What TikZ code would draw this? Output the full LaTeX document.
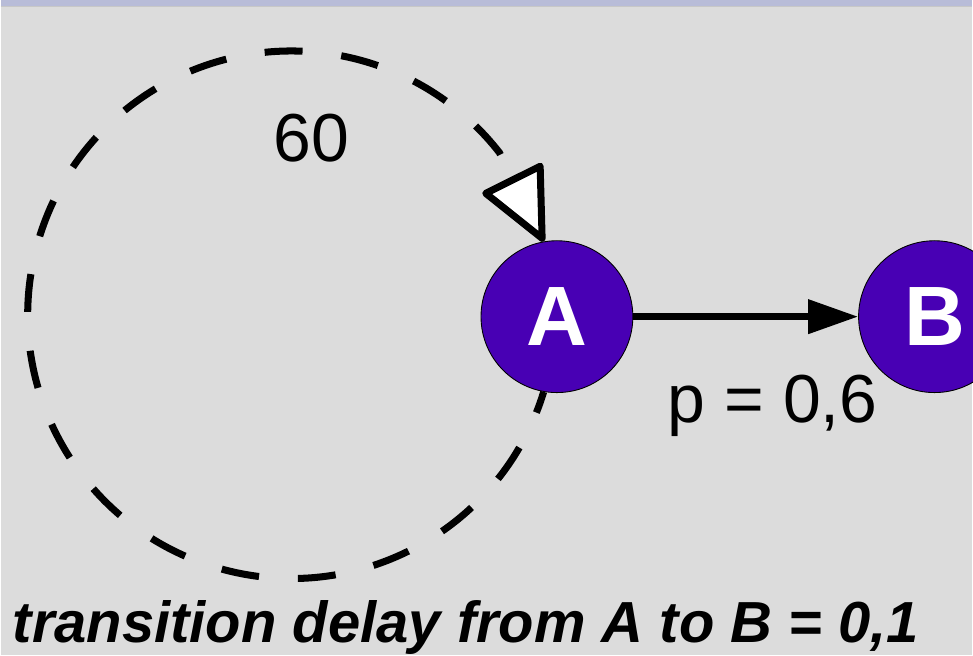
\documentclass[tikz,border=0pt]{standalone}
\usepackage{fontspec}
\setmainfont{Liberation Sans}
\usepackage{tikz}
\usetikzlibrary{arrows.meta}
\definecolor{chainbg}{RGB}{220,220,220}
\definecolor{chainbar}{RGB}{184,188,216}
\definecolor{chainviolet}{RGB}{72,0,180}

\begin{document}
\begin{tikzpicture}[
    stnode/.style={circle,draw=black,line width=0.5pt,fill=chainviolet,text=white,minimum size=3.04cm,inner sep=0pt,font=\fontsize{48}{48}\selectfont\bfseries},
    lbl/.style={inner sep=0pt,font=\fontsize{38.7}{44}\selectfont}]
        % background and top bar
        \fill[chainbg] (0,0) rectangle (19.46,13.12);
        \fill[chainbar] (0,13.0) rectangle (19.46,13.12);
        \draw[black!22,line width=0.6pt] (0,12.99) -- (19.46,12.99);
        \useasboundingbox (0,0) rectangle (19.46,13.12);
        \node[stnode] (a) at (11.14,6.78) {A};
        \node[stnode] (b) at (18.70,6.78) {B};
        \draw[line width=4pt,-{Triangle[length=1.0cm,width=0.66cm]}] (a) -- (b);
        \draw[line width=4pt,dash pattern=on 0.76cm off 0.78cm,dash phase=0.32cm,-{Triangle[round,length=1.55cm,width=1.4cm,fill=white,line width=4pt]}] (a.-100) arc[start angle=-17,end angle=-322,radius=5.28cm] -- (a.100);
        \node[lbl,anchor=base] (loopw) at (6.22,9.88) {60};
        \node[lbl,anchor=base] (prob) at (15.46,4.66) {p = 0,6};
        \node[inner sep=0pt,anchor=base west,font=\fontsize{33}{36}\selectfont\bfseries\itshape] (delay) at (0.24,0.26) {transition delay from A to B = 0,1};
      \end{tikzpicture}
\end{document}
